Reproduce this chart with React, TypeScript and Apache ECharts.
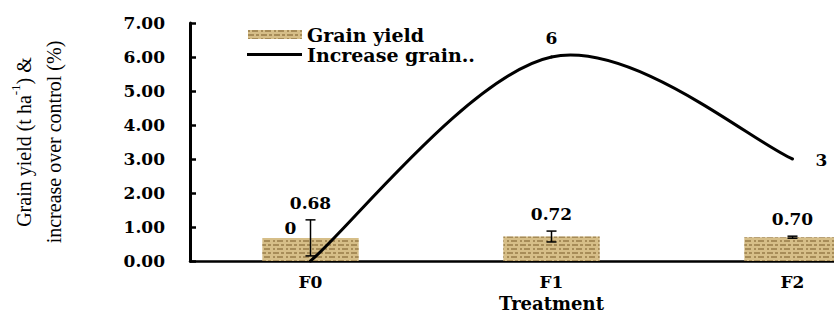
import React, { useEffect, useRef } from "react";
import * as echarts from "echarts";

const categories = ["F0", "F1", "F2"];
const grainYield = [0.68, 0.72, 0.7];
const yieldError = [0.53, 0.16, 0.03];
const increaseGrain = [0, 6, 3];
const yTicks = { min: 0, max: 7, interval: 1 };

const SERIF = "'DejaVu Serif', 'Liberation Serif', serif";

export default function App() {
  const ref = useRef<HTMLDivElement>(null);
  useEffect(() => {
    if (!ref.current) return;
    const chart = echarts.init(ref.current, null, { renderer: "svg" });

    // label offsets (px) for the line's point labels
    const lineLabelOffset = [
      [-20, -33],
      [0, -19],
      [29, 1],
    ];

    const option: any = {
      animation: false,
      backgroundColor: "#ffffff",
      grid: {
        left: 190,
        top: 23,
        bottom: 52,
        right: -79,
        containLabel: false,
        outerBoundsMode: "none",
      },
      legend: [
        {
          data: [{ name: "Grain yield", icon: "rect" }],
          left: 248,
          top: 25,
          padding: 0,
          itemWidth: 54,
          itemHeight: 9,
          itemGap: 6,
          textStyle: { fontFamily: SERIF, fontWeight: "bold", fontSize: 19, color: "#000" },
        },
        {
          data: [{ name: "Increase grain..", icon: "rect", itemStyle: { color: "#000" } }],
          left: 247,
          top: 45,
          padding: 0,
          itemWidth: 55,
          itemHeight: 3,
          itemGap: 5,
          textStyle: { fontFamily: SERIF, fontWeight: "bold", fontSize: 19, color: "#000" },
        },
      ],
      xAxis: {
        type: "category",
        data: categories,
        name: "Treatment",
        nameLocation: "middle",
        nameGap: 30,
        nameTextStyle: { fontFamily: SERIF, fontWeight: "bold", fontSize: 18, color: "#000" },
        axisLine: { lineStyle: { color: "#000", width: 2.5 } },
        axisTick: { inside: true, length: 4, lineStyle: { color: "#000", width: 3 } },
        axisLabel: { fontFamily: SERIF, fontWeight: "bold", fontSize: 17, color: "#000", margin: 12 },
      },
      yAxis: {
        type: "value",
        min: yTicks.min,
        max: yTicks.max,
        interval: yTicks.interval,
        splitLine: { show: false },
        axisLine: { show: true, lineStyle: { color: "#000", width: 3 } },
        axisTick: { show: true, inside: true, length: 6, lineStyle: { color: "#000", width: 2.5 } },
        axisLabel: {
          formatter: (v: number) => v.toFixed(2),
          fontFamily: SERIF,
          fontWeight: "bold",
          fontSize: 17,
          color: "#000",
          margin: 25,
        },
        name: "{a|Grain yield (t ha}{s|-1}{a|) &}\n{a|increase over control (%)}",
        nameLocation: "middle",
        nameRotate: 90,
        nameGap: 121,
        nameTextStyle: {
          fontFamily: "'Liberation Serif', serif",
          fontSize: 20,
          color: "#000",
          lineHeight: 30,
          rich: {
            a: { fontFamily: "'Liberation Serif', serif", fontSize: 20, color: "#000", lineHeight: 30 },
            s: {
              fontFamily: "'Liberation Serif', serif",
              fontSize: 13,
              color: "#000",
              verticalAlign: "top",
              lineHeight: 24,
            },
          },
        },
      },
      series: [
        {
          name: "Grain yield",
          type: "bar",
          data: grainYield,
          barWidth: "40%",
          itemStyle: {
            color: "#D6BE88",
            decal: {
              symbol: "rect",
              symbolSize: 1,
              color: "rgba(120,90,40,0.5)",
              dashArrayX: [
                [6, 2, 3, 2],
                [2, 2, 6, 3],
              ],
              dashArrayY: [2, 2],
              rotation: 0,
            },
          },
          z: 2,
        },
        {
          type: "custom",
          name: "err",
          data: grainYield.map((v, i) => [i, v, yieldError[i]]),
          renderItem: (params: any, api: any) => {
            const idx = api.value(0);
            const v = api.value(1);
            const e = api.value(2);
            const hi = api.coord([idx, v + e]);
            const lo = api.coord([idx, v - e]);
            const cap = 5;
            const style = { stroke: "#000", lineWidth: 1.5 };
            return {
              type: "group",
              children: [
                { type: "line", shape: { x1: hi[0], y1: hi[1], x2: lo[0], y2: lo[1] }, style },
                { type: "line", shape: { x1: hi[0] - cap, y1: hi[1], x2: hi[0] + cap, y2: hi[1] }, style },
                { type: "line", shape: { x1: lo[0] - cap, y1: lo[1], x2: lo[0] + cap, y2: lo[1] }, style },
                {
                  type: "text",
                  x: hi[0],
                  y: hi[1] - 17,
                  style: {
                    text: grainYield[params.dataIndex].toFixed(2),
                    fontFamily: SERIF,
                    fontWeight: "bold",
                    fontSize: 17,
                    fill: "#000",
                    align: "center",
                    verticalAlign: "middle",
                  },
                },
              ],
            };
          },
          z: 3,
        },
        {
          name: "Increase grain..",
          type: "custom",
          color: "#000",
          itemStyle: { color: "#000" },
          data: increaseGrain.map((v, i) => [i, v]),
          renderItem: (params: any, api: any) => {
            const i = params.dataIndex;
            const n = increaseGrain.length;
            const P = increaseGrain.map((v, k) => api.coord([k, v]));
            const get = (k: number) => P[Math.max(0, Math.min(n - 1, k))];
            const children: any[] = [];
            if (i < n - 1) {
              const p0 = get(i - 1);
              const p1 = get(i);
              const p2 = get(i + 1);
              const p3 = get(i + 2);
              children.push({
                type: "bezierCurve",
                shape: {
                  x1: p1[0],
                  y1: p1[1],
                  cpx1: p1[0] + (p2[0] - p0[0]) / 6,
                  cpy1: p1[1] + (p2[1] - p0[1]) / 6,
                  cpx2: p2[0] - (p3[0] - p1[0]) / 6,
                  cpy2: p2[1] - (p3[1] - p1[1]) / 6,
                  x2: p2[0],
                  y2: p2[1],
                },
                style: { stroke: "#000", lineWidth: 3, fill: null, lineCap: "round" },
              });
            }
            const off = lineLabelOffset[i];
            children.push({
              type: "text",
              x: P[i][0] + off[0],
              y: P[i][1] + off[1],
              style: {
                text: String(increaseGrain[i]),
                fontFamily: SERIF,
                fontWeight: "bold",
                fontSize: 17,
                fill: "#000",
                align: "center",
                verticalAlign: "middle",
              },
            });
            return { type: "group", children };
          },
          z: 4,
        },
      ],
    };
    chart.setOption(option);
    return () => chart.dispose();
  }, []);
  return (
    <div
      ref={ref}
      style={{ position: "fixed", left: 0, top: 0, width: 834, height: 313 }}
    />
  );
}
